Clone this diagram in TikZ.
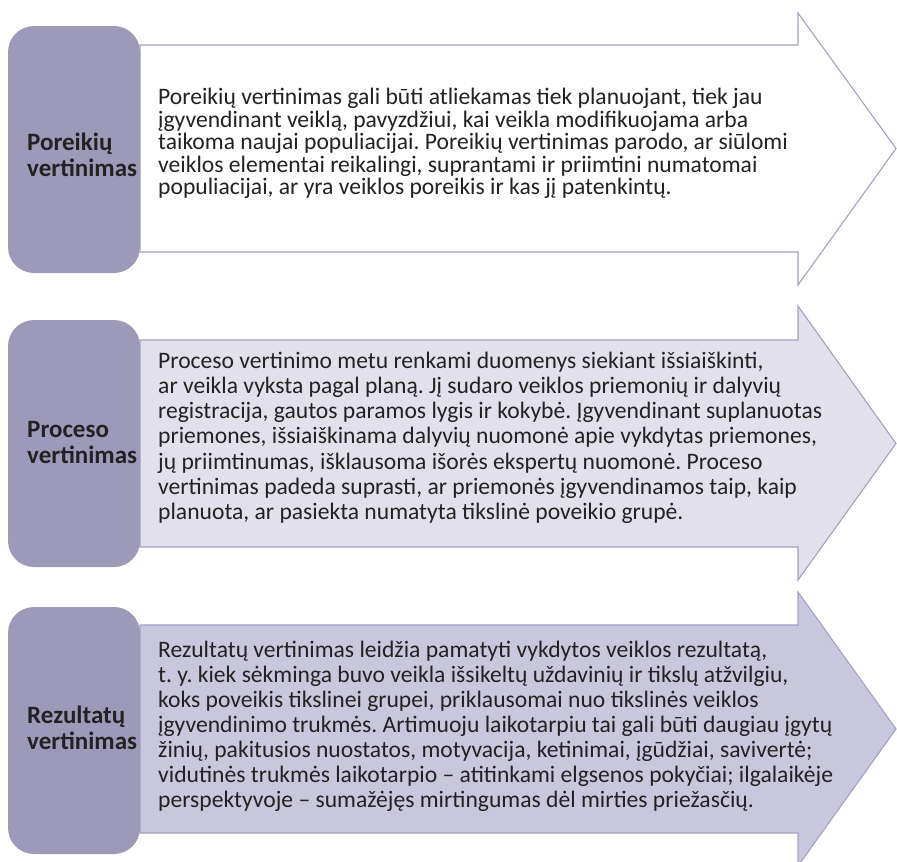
\documentclass[tikz,border=0pt]{standalone}
\usepackage{fontspec}
\setmainfont{Carlito}
\frenchspacing
\newcommand\fixlines{\lineskiplimit=-100pt\relax\lineskip=0pt\relax}
\definecolor{boxpurple}{HTML}{9D9AB9}
\definecolor{arrowline}{HTML}{A3A1C6}
\definecolor{fillA}{HTML}{FFFFFF}
\definecolor{fillB}{HTML}{E2E1EB}
\definecolor{fillC}{HTML}{C9C7DB}
\definecolor{txt}{HTML}{222222}
\tikzset{
  labelbox/.style={fill=boxpurple, rounded corners=26pt},
  bigarrow/.style={draw=arrowline, line width=1.1pt, line join=miter},
  labeltext/.style={anchor=base west, align=left, inner sep=0pt, text=txt,
     font={\fontsize{25}{26}\selectfont\bfseries\fixlines}},
  bodytext/.style={anchor=base west, align=left, inner sep=0pt, text=txt}
}
\begin{document}
\begin{tikzpicture}[x=1pt,y=-1pt]
\useasboundingbox (0,0) rectangle (897,862);
\fill[white] (0,0) rectangle (897,862);

% Row 1
\draw[bigarrow, fill=fillA] (140,45) -- (798,45) -- (798,13) -- (896,148.5) -- (798,285) -- (798,252) -- (140,252) -- cycle;
\fill[labelbox] (8,26) rectangle (140,273);
\node[labeltext] (l1) at (27,176) {Poreikių\\vertinimas};
\node[bodytext, font={\fontsize{23.6}{22.4}\selectfont\fixlines}] (t1) at (158,194.5) {Poreikių vertinimas gali būti atliekamas tiek planuojant, tiek jau\\
įgyvendinant veiklą, pavyzdžiui, kai veikla modifikuojama arba\\
taikoma naujai populiacijai. Poreikių vertinimas parodo, ar siūlomi\\
veiklos elementai reikalingi, suprantami ir priimtini numatomai\\
populiacijai, ar yra veiklos poreikis ir kas jį patenkintų.};

% Row 2
\draw[bigarrow, fill=fillB] (140,340) -- (798,340) -- (798,306) -- (896,443.5) -- (798,580) -- (798,547) -- (140,547) -- cycle;
\fill[labelbox] (8,320) rectangle (140,567);
\node[labeltext] (l2) at (27,463) {Proceso\\vertinimas};
\node[bodytext, font={\fontsize{23.6}{25.2}\selectfont\fixlines}] (t2) at (158,519.5) {Proceso vertinimo metu renkami duomenys siekiant išsiaiškinti,\\
ar veikla vyksta pagal planą. Jį sudaro veiklos priemonių ir dalyvių\\
registracija, gautos paramos lygis ir kokybė. Įgyvendinant suplanuotas\\
priemones, išsiaiškinama dalyvių nuomonė apie vykdytas priemones,\\
jų priimtinumas, išklausoma išorės ekspertų nuomonė. Proceso\\
vertinimas padeda suprasti, ar priemonės įgyvendinamos taip, kaip\\
planuota, ar pasiekta numatyta tikslinė poveikio grupė.};

% Row 3
\draw[bigarrow, fill=fillC] (140,625) -- (798,625) -- (798,592) -- (896,729) -- (798,866) -- (798,833) -- (140,833) -- cycle;
\fill[labelbox] (8,607) rectangle (140,854);
\node[labeltext] (l3) at (27,749) {Rezultatų\\vertinimas};
\node[bodytext, font={\fontsize{23.6}{25}\selectfont\fixlines}] (t3) at (158,807) {Rezultatų vertinimas leidžia pamatyti vykdytos veiklos rezultatą,\\
t. y. kiek sėkminga buvo veikla išsikeltų uždavinių ir tikslų atžvilgiu,\\
koks poveikis tikslinei grupei, priklausomai nuo tikslinės veiklos\\
įgyvendinimo trukmės. Artimuoju laikotarpiu tai gali būti daugiau įgytų\\
žinių, pakitusios nuostatos, motyvacija, ketinimai, įgūdžiai, savivertė;\\
vidutinės trukmės laikotarpio – atitinkami elgsenos pokyčiai; ilgalaikėje\\
perspektyvoje – sumažėjęs mirtingumas dėl mirties priežasčių.};
\end{tikzpicture}
\end{document}
